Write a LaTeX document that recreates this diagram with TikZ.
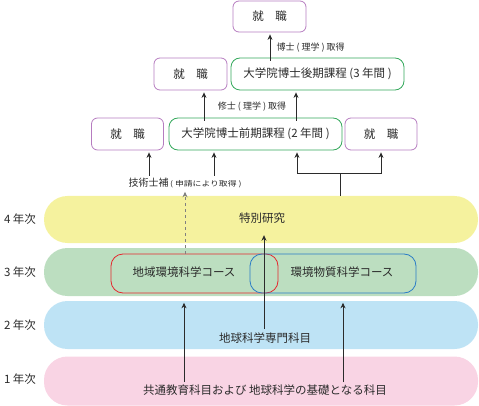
\documentclass[tikz,border=0pt]{standalone}
\usepackage{fontspec}
\usepackage{graphicx}
\setmainfont{Noto Sans CJK JP}
\usetikzlibrary{arrows.meta}

\definecolor{shokupurple}{HTML}{B67CC0}
\definecolor{coursegreen}{HTML}{34A85C}
\definecolor{yellowband}{HTML}{F5F29E}
\definecolor{greenband}{HTML}{BCDEC0}
\definecolor{blueband}{HTML}{BEE3F5}
\definecolor{pinkband}{HTML}{F9D4E4}
\definecolor{chiikired}{HTML}{E6262E}
\definecolor{kankyoblue}{HTML}{2A7CC6}
\definecolor{textgray}{HTML}{2B2B2B}

\tikzset{
  band/.style={fill=#1, rounded corners=23.5pt, minimum width=434pt, minimum height=47pt, inner sep=0pt},
  shoku/.style={draw=shokupurple, line width=0.8pt, rounded corners=6pt, minimum width=72pt, minimum height=32pt, inner sep=0pt},
  course/.style={draw=coursegreen, line width=0.8pt, rounded corners=9pt, minimum width=173pt, minimum height=32pt, inner sep=0pt},
  track/.style={draw=#1, line width=0.8pt, rounded corners=12pt, minimum width=167pt, minimum height=39pt, inner sep=0pt},
  arr/.style={-{Stealth[length=5.5pt,width=5pt]}, line width=0.8pt, draw=textgray},
}

\begin{document}
\begin{tikzpicture}[x=1pt, y=-1pt, font=\fontsize{11.5}{13}\selectfont, text=textgray]
  \useasboundingbox (0,0) rectangle (479,406);

  % Year bands
  \node[band=yellowband] (band4) at (261,219.5) {};
  \node[band=greenband, minimum height=48pt] (band3) at (261,272) {};
  \node[band=blueband, minimum height=48pt] (band2) at (261,325) {};
  \node[band=pinkband, minimum height=49pt] (band1) at (261,381) {};

  % Year labels
  \node (year4) at (20,219) {4 年次};
  \node (year3) at (20,272) {3 年次};
  \node (year2) at (20,325) {2 年次};
  \node (year1) at (20,379) {1 年次};

  % Band texts
  \node (tokubetsu) at (262,218) {特別研究};
  \node (senmon) at (265,338) {地球科学専門科目};
  \node (kyotsu) at (265,390) {共通教育科目および 地球科学の基礎となる科目};

  % Courses
  \node[track=chiikired] (chiiki) at (194.5,273.5) {};
  \node[track=kankyoblue, minimum width=166pt] (kankyo) at (333,273.5) {};
  \node (chiikitxt) at (184,272) {地域環境科学コース};
  \node (kankyotxt) at (342,272) {環境物質科学コース};

  % Graduate school and jobs
  \node[shoku] (shokuL) at (127.5,134) {就　職};
  \node[course] (zenki) at (255.5,134) {大学院博士前期課程 (2 年間 )};
  \node[shoku] (shokuR) at (381,134) {就　職};
  \node[shoku, minimum width=73pt] (shokuM) at (190.5,74) {就　職};
  \node[course] (kouki) at (317.5,74) {大学院博士後期課程 (3 年間 )};
  \node[shoku, minimum width=73pt, minimum height=31pt] (shokuT) at (269.5,16.5) {就　職};

  % Degree labels
  \node[font=\fontsize{9}{10}\selectfont] (shushi) at (252,107) {修士 ( 理学 ) 取得};
  \node[font=\fontsize{9}{10}\selectfont, anchor=west] (hakase) at (273,48) {博士 ( 理学 ) 取得};
  \node[font=\fontsize{10}{11}\selectfont] (gishi) at (185,183)
    {技術士補\,\scalebox{1.1}[0.9]{\fontsize{8}{9}\selectfont ( 申請により取得 )}};

  % Arrows from year 1
  \draw[arr] ([xshift=-81pt,yshift=-1pt]kyotsu.north) -- ([xshift=-81pt,yshift=-2pt]kyotsu.north |- band2.north);
  \draw[arr] ([xshift=78pt,yshift=-1pt]kyotsu.north) -- ([xshift=78pt,yshift=-2pt]kyotsu.north |- band2.north);

  % Specialised subjects to special research
  \draw[arr] ([xshift=-1pt]senmon.north) -- ([xshift=-1pt,yshift=8pt]senmon.north |- band4.south);

  % Engineer qualification
  \draw[arr, dashed, draw=gray] ([xshift=-9.5pt]chiiki.north) -- ([xshift=-9.5pt,yshift=4pt]chiiki.north |- band4.north);
  \draw[arr] ([xshift=-36pt,yshift=-1pt]gishi.north) -- ([xshift=-36pt,yshift=-2pt]gishi.north |- shokuL.south);
  \draw[arr] ([xshift=29pt,yshift=-1pt]gishi.north) -- ([xshift=29pt,yshift=-2pt]gishi.north |- shokuL.south);

  % From special research to graduate school or job
  \coordinate (fork) at (340,173);
  \draw[line width=0.8pt, draw=textgray] (band4.north -| fork) -- (fork);
  \draw[arr] (fork) -| ([xshift=41.5pt,yshift=-2pt]zenki.south);
  \draw[arr] (fork) -| ([yshift=-2pt]shokuR.south);

  % Master's course
  \draw[arr] ([xshift=-51.5pt,yshift=-3pt]zenki.north) -- ([xshift=-51.5pt,yshift=-2pt]zenki.north |- shokuM.south);
  \draw[arr] ([xshift=40.5pt,yshift=-3pt]zenki.north) -- ([xshift=40.5pt,yshift=-2pt]zenki.north |- kouki.south);

  % Doctoral course
  \draw[arr] ([xshift=-47.5pt,yshift=-3pt]kouki.north) -- ([xshift=-47.5pt,yshift=-2pt]kouki.north |- shokuT.south);
\end{tikzpicture}
\end{document}
